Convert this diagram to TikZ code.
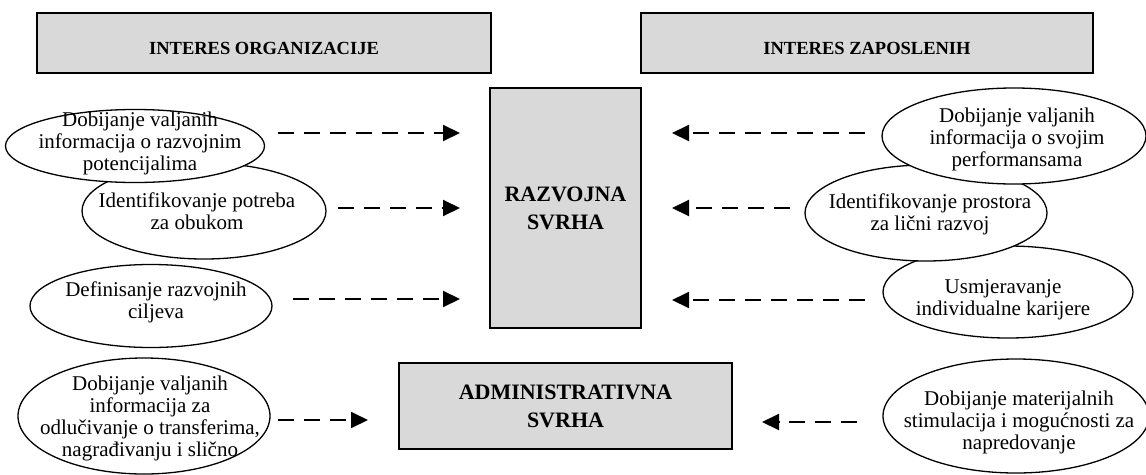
\documentclass[tikz,border=0pt]{standalone}
\usepackage{fontspec}
\setmainfont{Liberation Serif}
\usetikzlibrary{arrows.meta,shapes.geometric}
\definecolor{boxgray}{HTML}{D9D9D9}
\begin{document}
\begin{tikzpicture}[x=1pt,y=-1pt,
  graybox/.style={draw=black, fill=boxgray, line width=1.6pt, inner sep=0pt, align=center},
  hdrfont/.style={font=\fontsize{18.5}{22}\selectfont\bfseries, text height=22pt, text depth=0pt},
  boxfont/.style={font=\fontsize{22}{28}\selectfont\bfseries},
  ell/.style={draw=black, fill=white, ellipse, line width=1.3pt, inner sep=0pt},
  etext/.style={align=center, inner sep=0pt, font=\fontsize{21}{22}\selectfont},
  darr/.style={line width=2pt, dash pattern=on 16pt off 10pt, -{Triangle[length=17pt,width=16pt]}}
]
\useasboundingbox (0,0) rectangle (1146,474);

% header boxes
\node[graybox, hdrfont, minimum width=454pt, minimum height=60pt] (org) at (264,43) {INTERES ORGANIZACIJE};
\node[graybox, hdrfont, minimum width=452pt, minimum height=60pt] (zap) at (867,43) {INTERES ZAPOSLENIH};

% central boxes
\node[graybox, boxfont, minimum width=151pt, minimum height=240pt] (raz) at (565.5,208) {RAZVOJNA\\SVRHA};
\node[graybox, boxfont, minimum width=333pt, minimum height=86pt] (adm) at (565.5,406) {ADMINISTRATIVNA\\SVRHA};

% left ellipses (lower ones first so upper ones overlap them)
\node[ell, minimum width=252pt, minimum height=116pt] (l4) at (144,416) {};
\node[ell, minimum width=242pt, minimum height=83pt] (l3) at (151,306) {};
\node[ell, minimum width=244pt, minimum height=96pt] (l2) at (204,211) {};
\node[ell, minimum width=259pt, minimum height=73pt] (l1) at (135,146) {};

% right ellipses
\node[ell, minimum width=266pt, minimum height=114pt] (r4) at (1016,416) {};
\node[ell, minimum width=250pt, minimum height=92pt] (r3) at (1008,292) {};
\node[ell, minimum width=242pt, minimum height=96pt] (r2) at (926,213) {};
\node[ell, minimum width=264pt, minimum height=96pt] (r1) at (1014,136) {};

% ellipse texts
\node[etext] (l1t) at (140,143) {Dobijanje valjanih\\informacija o razvojnim\\potencijalima};
\node[etext] (l2t) at (197,211) {Identifikovanje potreba\\za obukom};
\node[etext] (l3t) at (156,302) {Definisanje razvojnih\\ciljeva};
\node[etext] (l4t) at (150,418) {Dobijanje valjanih\\informacija za\\odlučivanje o transferima,\\nagrađivanju i slično};
\node[etext] (r1t) at (1017,139) {Dobijanje valjanih\\informacija o svojim\\performansama};
\node[etext] (r2t) at (930,214) {Identifikovanje prostora\\za lični razvoj};
\node[etext] (r3t) at (1003,300) {Usmjeravanje\\individualne karijere};
\node[etext] (r4t) at (1019,422) {Dobijanje materijalnih\\stimulacija i mogućnosti za\\napredovanje};

% arrow end points
\coordinate (a1s) at (278,133); \coordinate (a1e) at (460,133);
\coordinate (a2s) at (338,208); \coordinate (a2e) at (460,208);
\coordinate (a3s) at (293,299); \coordinate (a3e) at (460,299);
\coordinate (a4s) at (278,420); \coordinate (a4e) at (368,420);
\coordinate (b1s) at (865,133); \coordinate (b1e) at (672,133);
\coordinate (b2s) at (790,208); \coordinate (b2e) at (672,208);
\coordinate (b3s) at (865,300); \coordinate (b3e) at (672,300);
\coordinate (b4s) at (857,422); \coordinate (b4e) at (762,422);

\draw[darr] (a1s) -- (a1e);
\draw[darr] (a2s) -- (a2e);
\draw[darr] (a3s) -- (a3e);
\draw[darr] (a4s) -- (a4e);
\draw[darr] (b1s) -- (b1e);
\draw[darr] (b2s) -- (b2e);
\draw[darr] (b3s) -- (b3e);
\draw[darr] (b4s) -- (b4e);
\end{tikzpicture}
\end{document}
